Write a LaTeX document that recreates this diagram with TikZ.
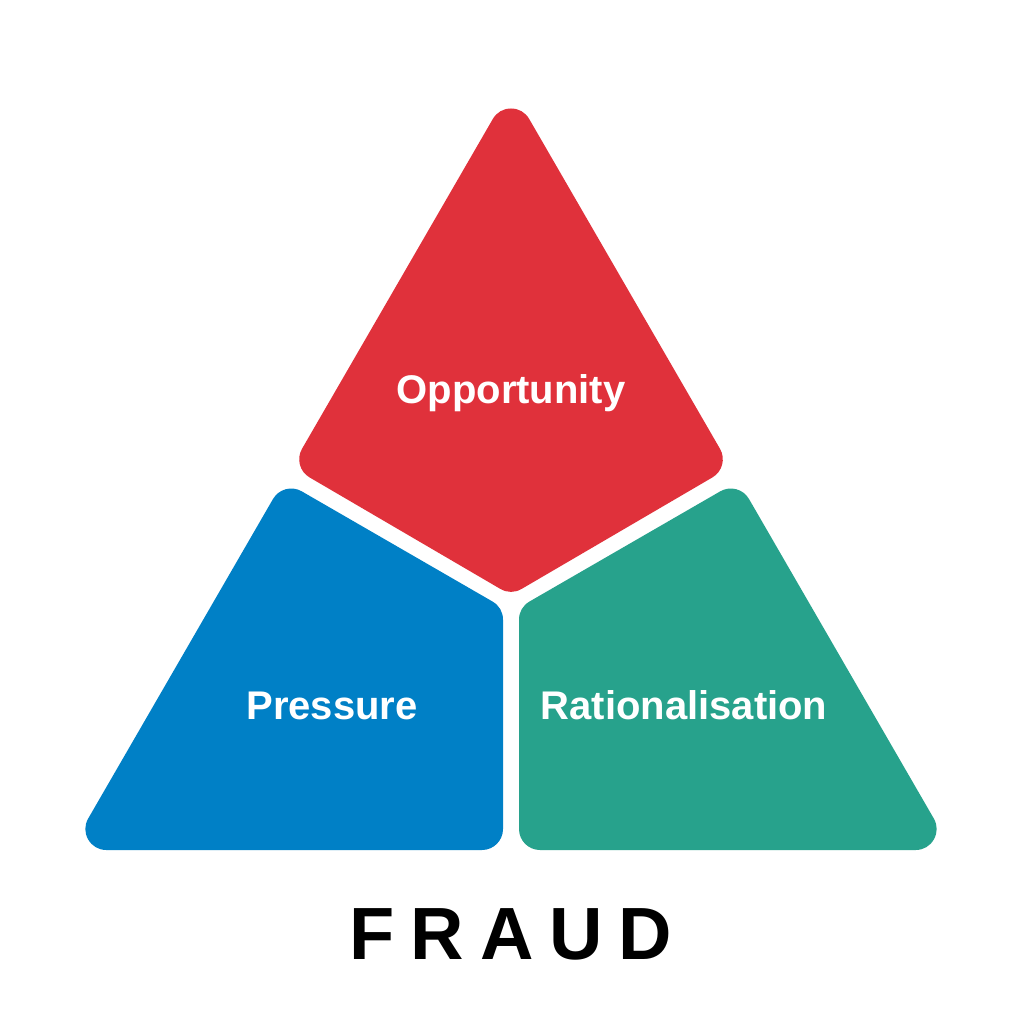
\documentclass[tikz,border=0pt]{standalone}
\usepackage{fontspec}
\setmainfont{Liberation Sans}
\definecolor{oppred}{RGB}{224,49,59}
\definecolor{presblue}{RGB}{0,128,198}
\definecolor{ratgreen}{RGB}{39,162,140}
\begin{document}
\begin{tikzpicture}[x=1pt,y=-1pt,
  region/.style={line width=42pt, line join=round},
  txtlabel/.style={text=white, font=\bfseries\fontsize{40}{46}\selectfont, anchor=base, inner sep=0pt},
  titlelabel/.style={text=black, font=\bfseries\fontsize{74}{80}\selectfont, anchor=base, inner sep=0pt}]
\useasboundingbox (0,0) rectangle (1024,1024);
\fill[white] (0,0) rectangle (1024,1024);
% red region (inset by corner radius 21)
\coordinate (rA) at (511,129.5);
\coordinate (rR) at (701.8,459.3);
\coordinate (rB) at (511,570.8);
\coordinate (rL) at (320.2,459.3);
% blue region
\coordinate (bB) at (106.4,829);
\coordinate (bT) at (291.2,509.5);
\coordinate (bI) at (482.0,619.7);
\coordinate (bR) at (482.0,829);
% green region
\coordinate (gC) at (915.6,829);
\coordinate (gT) at (730.8,509.5);
\coordinate (gI) at (540.0,619.7);
\coordinate (gL) at (540.0,829);
\filldraw[region, fill=oppred, draw=oppred] (rA) -- (rR) -- (rB) -- (rL) -- cycle;
\filldraw[region, fill=presblue, draw=presblue] (bB) -- (bT) -- (bI) -- (bR) -- cycle;
\filldraw[region, fill=ratgreen, draw=ratgreen] (gC) -- (gT) -- (gI) -- (gL) -- cycle;
\node[txtlabel] (opp) at (511,403) {Opportunity};
\node[txtlabel] (pres) at (332,719) {Pressure};
\node[txtlabel] (rat) at (684,719) {Rationalisation};
\node[titlelabel] (fraud) at (511,959) {F\kern16pt R\kern16pt A\kern16pt U\kern16pt D};
\end{tikzpicture}
\end{document}
